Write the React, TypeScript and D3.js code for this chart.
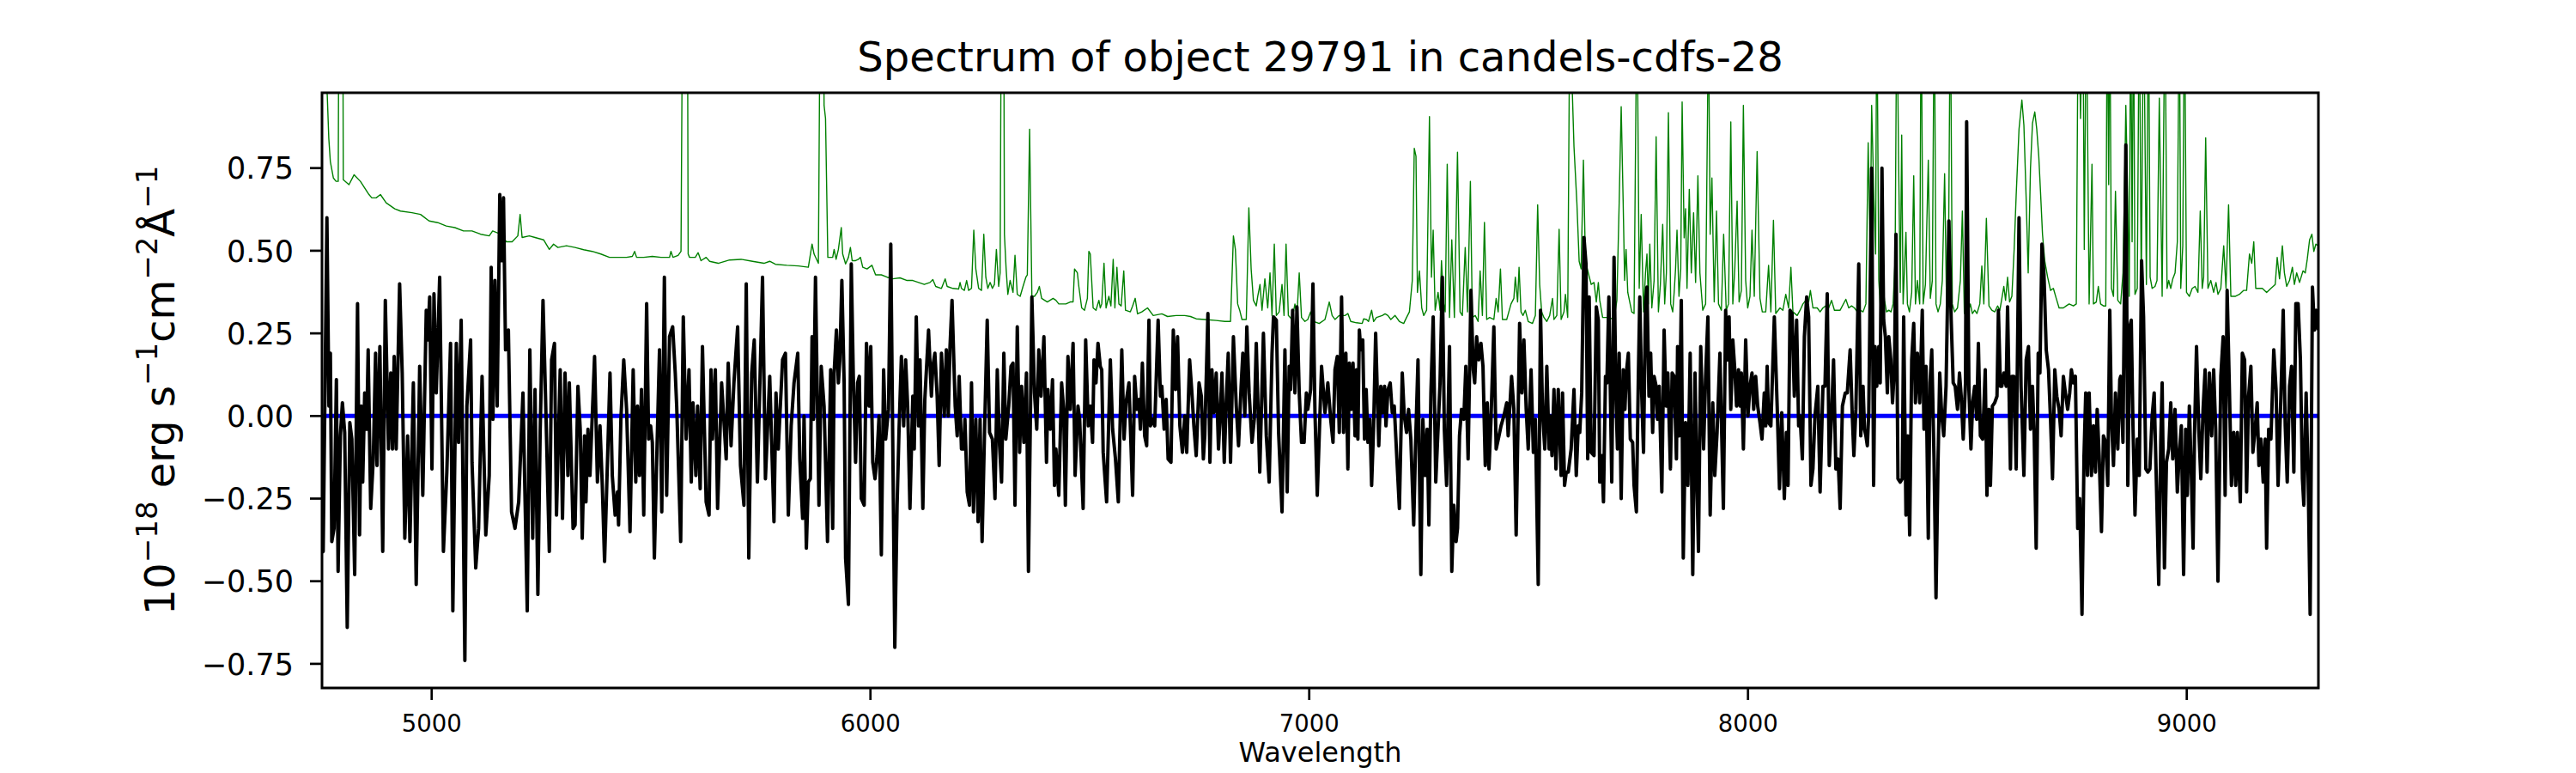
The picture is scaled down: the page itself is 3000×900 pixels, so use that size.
import React from 'react';
import * as d3 from 'd3';

const TITLE = 'Spectrum of object 29791 in candels-cdfs-28';
const X_LABEL = 'Wavelength';
const X_TICKS = [5000, 6000, 7000, 8000, 9000];
const Y_TICKS = [-0.75, -0.5, -0.25, 0, 0.25, 0.5, 0.75];
const X_DOMAIN: [number, number] = [4750, 9300];
const Y_DOMAIN: [number, number] = [-0.823, 0.978];

// model / continuum (blue)
const MODEL: [number, number][] = [[4750, 0], [9300, 0]];

// observed flux (black), wavelength [A], flux [1e-18 erg/s/cm2/A]
const FLUX: [number, number][] = [
  [4750,-0.40],[4752.7,-0.41],[4761.2,0.60],[4765.8,0.03],[4769.1,0.19],[4772.3,-0.38],[4777.5,-0.34],[4782.8,0.11],[4786.7,-0.47],[4791.9,-0.06],[4796.5,0.04],[4801.7,-0.05],[4807.5,-0.64],[4813.4,-0.02],[4818.0,-0.07],[4824.5,-0.48],[4831.0,0.34],[4835.6,-0.36],[4839.5,0.03],[4842.8,-0.20],[4847.3,0.07],[4851.9,-0.04],[4855.2,0.20],[4861.0,-0.28],[4866.9,-0.13],[4872.1,0.19],[4875.4,-0.15],[4881.9,0.21],[4888.4,-0.41],[4894.3,0.35],[4901.5,-0.10],[4906.7,0.13],[4910.6,-0.10],[4914.5,0.18],[4919.1,-0.10],[4926.9,0.40],[4932.8,0.13],[4938.7,-0.37],[4945.2,-0.06],[4950.4,-0.38],[4958.2,0.10],[4964.7,-0.51],[4972.6,0.15],[4979.7,-0.24],[4987.6,0.32],[4990.8,0.23],[4995.4,0.36],[5000.6,-0.16],[5005.2,0.37],[5010.4,0.07],[5018.2,0.42],[5026.7,-0.41],[5034.5,-0.17],[5043.0,0.22],[5048.2,-0.59],[5056.1,0.22],[5061.3,-0.08],[5067.2,0.29],[5075.6,-0.74],[5080.2,0.03],[5088.7,0.23],[5091.9,-0.14],[5100.4,-0.46],[5106.9,-0.34],[5114.8,0.12],[5123.3,-0.36],[5131.1,-0.18],[5135.6,0.45],[5139.6,-0.01],[5144.1,0.41],[5149.3,0.03],[5155.2,0.67],[5159.1,0.47],[5163.7,0.66],[5168.3,0.20],[5174.8,0.26],[5182.0,-0.29],[5189.8,-0.34],[5198.3,-0.26],[5208.0,0.07],[5217.8,-0.59],[5223.7,0.20],[5230.2,-0.37],[5235.5,0.08],[5242.0,-0.54],[5247.2,-0.05],[5253.7,0.35],[5259.6,0.05],[5268.1,-0.41],[5273.3,0.17],[5279.8,0.22],[5284.4,-0.30],[5292.9,0.14],[5298.1,-0.31],[5303.9,0.13],[5310.5,-0.18],[5313.7,0.10],[5322.2,-0.34],
  [5326.8,-0.33],[5333.3,0.09],[5338.5,-0.04],[5343.1,-0.37],[5348.3,-0.06],[5351.6,-0.26],[5356.2,-0.04],[5360.7,-0.18],[5371.2,0.18],[5377.7,-0.20],[5383.6,-0.03],[5388.8,-0.21],[5394.0,-0.44],[5399.9,-0.17],[5406.4,0.13],[5411.6,-0.18],[5418.1,-0.30],[5423.3,-0.23],[5425.9,-0.33],[5431.2,-0.01],[5437.7,0.17],[5444.2,0.02],[5452.0,-0.35],[5459.2,0.14],[5465.1,-0.20],[5469.0,0.03],[5473.6,-0.18],[5478.1,0.08],[5483.3,-0.30],[5489.9,0.34],[5494.4,-0.07],[5499.0,-0.03],[5502.9,-0.08],[5507.5,-0.43],[5514.0,-0.07],[5519.2,0.20],[5524.4,-0.29],[5530.3,0.42],[5535.5,-0.24],[5542.1,0.24],[5549.2,0.27],[5555.1,0.13],[5558.4,0.03],[5567.5,-0.38],[5573.4,0.30],[5579.9,-0.07],[5586.4,0.14],[5591.6,-0.20],[5595.5,0.04],[5602.1,-0.18],[5606.0,0.03],[5611.9,-0.22],[5617.1,0.21],[5625.5,-0.26],[5632.1,-0.30],[5636.6,0.14],[5639.9,-0.07],[5646.4,0.14],[5651.6,-0.28],[5660.8,0.10],[5671.2,-0.13],[5675.8,0.16],[5682.3,-0.09],[5688.8,0.10],[5697.3,0.27],[5703.8,-0.15],[5711.7,-0.27],[5716.9,0.40],[5722.7,-0.43],[5729.3,0.13],[5735.1,0.23],[5742.3,-0.20],[5747.5,0.07],[5754.0,0.42],[5760.6,-0.19],[5770.4,0.12],[5780.1,-0.32],[5784.7,0.07],[5789.9,-0.10],[5799.7,0.17],[5806.2,0.19],[5812.8,-0.30],[5819.3,-0.03],[5825.8,0.10],[5834.3,0.19],[5838.9,-0.13],[5845.4,-0.31],[5848.6,0.00],[5853.9,-0.40],[5858.4,-0.20],[5863.0,-0.19],[5866.9,0.24],[5870.2,-0.01],[5874.7,0.42],[5882.6,-0.27],[5887.8,0.15],[5894.3,0.03],[5902.1,-0.38],[5909.3,0.14],
  [5913.9,-0.34],[5917.2,0.13],[5922.4,0.26],[5926.9,0.10],[5930.2,0.17],[5934.8,0.41],[5940.0,0.10],[5943.3,-0.43],[5949.8,-0.57],[5956.3,0.46],[5960.9,0.12],[5966.1,-0.14],[5970.7,0.10],[5974.6,0.12],[5979.1,-0.25],[5985.7,-0.27],[5990.9,0.22],[5996.7,0.03],[6000.7,0.21],[6005.2,-0.14],[6010.4,-0.19],[6015.0,-0.12],[6019.6,0.00],[6024.8,-0.42],[6030.0,0.14],[6034.6,-0.07],[6041.1,0.02],[6046.3,0.52],[6055.5,-0.70],[6060.7,-0.27],[6065.2,-0.04],[6070.5,0.18],[6075.7,-0.03],[6080.2,0.17],[6084.8,0.03],[6090.0,-0.28],[6096.5,0.06],[6099.8,-0.10],[6104.4,0.30],[6109.6,-0.03],[6112.9,0.17],[6119.4,-0.28],[6123.9,0.05],[6132.4,0.26],[6138.9,0.06],[6142.2,0.15],[6146.8,0.19],[6152.0,0.06],[6156.6,-0.15],[6161.8,0.19],[6168.3,0.00],[6172.9,0.20],[6177.4,0.00],[6181.3,0.21],[6185.9,0.35],[6193.1,0.03],[6197.7,-0.06],[6202.2,0.12],[6207.4,-0.10],[6212.7,-0.10],[6215.3,-0.01],[6220.5,-0.23],[6225.7,-0.27],[6230.3,0.10],[6234.8,-0.29],[6240.1,-0.01],[6245.3,-0.32],[6249.8,-0.01],[6254.4,-0.38],[6259.6,-0.07],[6266.1,0.29],[6271.4,-0.05],[6277.9,-0.07],[6283.8,-0.25],[6289.0,0.14],[6294.2,-0.09],[6298.8,-0.20],[6304.0,0.19],[6308.5,-0.07],[6315.1,0.03],[6320.3,0.15],[6324.9,0.16],[6329.4,-0.27],[6334.6,0.27],[6339.9,-0.11],[6344.4,0.09],[6349.6,-0.08],[6355.5,0.13],[6360.1,-0.47],[6367.9,0.36],[6373.8,0.07],[6379.0,-0.04],[6383.6,0.20],[6388.8,0.06],[6395.3,0.24],[6401.2,-0.14],[6404.4,0.08],[6409.7,-0.04],[6414.9,0.11],[6419.4,-0.21],[6422.7,-0.10],[6429.2,-0.24],[6435.7,0.10],[6440.3,0.02],[6444.2,-0.27],[6450.1,0.18],[6455.3,0.02],[6461.8,0.22],[6466.4,-0.18],[6472.9,0.03],[6476.8,-0.01],[6484.7,-0.28],[6490.5,0.23],[6496.4,-0.03],
  [6501.0,0.03],[6506.2,-0.08],[6509.5,0.17],[6514.0,0.10],[6518.6,0.22],[6523.8,0.15],[6527.1,0.14],[6530.4,-0.11],[6538.2,-0.26],[6541.4,-0.10],[6546.7,0.17],[6551.9,-0.04],[6558.4,-0.13],[6564.9,-0.26],[6572.8,0.20],[6578.0,-0.07],[6582.5,0.04],[6589.1,0.10],[6597.5,-0.24],[6602.1,0.12],[6607.3,0.02],[6611.9,0.05],[6615.2,-0.04],[6619.7,0.16],[6624.9,-0.06],[6629.5,-0.09],[6634.7,0.29],[6638.0,-0.03],[6643.2,-0.01],[6647.8,-0.03],[6655.6,0.29],[6660.8,0.06],[6664.1,0.09],[6669.3,-0.04],[6673.9,0.05],[6678.4,-0.13],[6684.9,-0.14],[6690.2,0.26],[6695.4,0.08],[6699.9,0.24],[6705.2,-0.03],[6711.0,-0.11],[6716.3,0.00],[6720.8,-0.11],[6727.4,0.17],[6732.6,0.07],[6737.1,-0.03],[6742.4,-0.12],[6748.9,0.10],[6754.1,0.06],[6758.7,-0.13],[6761.9,-0.06],[6769.1,0.31],[6773.7,-0.14],[6778.2,0.14],[6782.8,0.01],[6788.0,0.13],[6793.2,-0.10],[6796.5,-0.01],[6801.1,0.13],[6806.3,-0.14],[6810.8,0.04],[6815.4,0.19],[6820.6,-0.14],[6827.2,0.24],[6833.7,0.03],[6838.9,-0.09],[6844.8,0.09],[6848.7,0.19],[6853.2,0.00],[6857.8,0.27],[6863.0,0.07],[6869.6,-0.08],[6874.8,-0.01],[6879.3,0.22],[6887.2,-0.17],[6895.6,0.25],[6902.2,-0.06],[6908.7,-0.20],[6915.2,0.19],[6918.5,0.30],[6925.0,0.29],[6930.2,-0.05],[6938.0,-0.29],[6944.6,0.20],[6949.8,-0.23],[6954.3,0.15],[6957.6,0.08],[6962.2,0.32],[6967.4,0.07],[6972.0,0.33],[6977.2,0.07],[6982.4,-0.08],[6988.3,-0.08],[6993.5,0.07],[6996.7,0.02],[7003.3,0.08],[7008.5,0.40],[7013.1,0.01],[7018.3,-0.24],[7028.1,0.15],[7035.9,0.01],[7042.4,0.10],[7048.9,-0.01],[7054.2,-0.08],[7058.7,0.14],[7063.9,0.18],[7068.5,-0.05],[7073.7,0.36],[7078.3,-0.05],[7083.5,0.19],[7088.1,-0.16],
  [7091.4,0.16],[7095.9,0.02],[7099.8,0.16],[7104.4,-0.06],[7107.7,0.14],[7110.9,-0.07],[7114.2,0.26],[7117.5,0.20],[7122.0,0.23],[7125.9,-0.07],[7129.8,0.08],[7133.8,-0.08],[7138.3,-0.01],[7142.2,-0.21],[7146.8,-0.03],[7151.4,0.25],[7158.5,-0.09],[7163.1,0.09],[7167.7,0.01],[7171.6,0.09],[7174.9,-0.03],[7179.4,0.08],[7184.6,0.10],[7189.2,0.01],[7193.8,0.03],[7199.0,-0.11],[7205.5,-0.28],[7212.0,0.13],[7216.6,0.00],[7221.8,-0.05],[7226.4,0.02],[7231.6,-0.07],[7238.1,-0.33],[7242.7,-0.07],[7247.9,0.17],[7254.4,-0.48],[7259.0,-0.01],[7264.2,-0.18],[7268.8,-0.04],[7272.7,-0.33],[7277.3,0.07],[7282.5,0.30],[7288.4,-0.20],[7293.6,-0.04],[7298.1,0.10],[7303.4,0.42],[7307.9,-0.04],[7313.1,-0.21],[7319.7,0.21],[7324.9,-0.47],[7329.5,-0.27],[7334.7,-0.38],[7338.0,-0.34],[7342.5,-0.06],[7347.1,0.02],[7352.3,-0.01],[7356.9,0.15],[7362.1,-0.13],[7368.6,0.38],[7373.8,0.14],[7377.1,0.10],[7381.6,0.24],[7386.2,0.17],[7391.4,0.22],[7396.0,0.15],[7401.2,-0.15],[7405.8,0.04],[7409.7,-0.16],[7414.3,-0.01],[7420.8,0.27],[7426.0,-0.10],[7432.5,-0.06],[7437.1,-0.03],[7443.6,0.00],[7450.1,0.04],[7453.4,-0.06],[7461.2,0.12],[7466.4,0.02],[7471.6,-0.36],[7479.5,0.28],[7484.7,0.07],[7489.3,0.23],[7494.5,0.02],[7499.1,-0.10],[7505.6,0.14],[7510.8,-0.11],[7515.4,-0.01],[7521.9,-0.51],[7527.1,0.32],[7531.7,0.01],[7536.9,-0.10],[7541.5,0.15],[7546.7,-0.10],[7549.9,0.00],[7553.2,-0.12],[7557.8,0.08],[7562.3,-0.16],[7567.5,0.08],[7574.1,-0.18],[7577.3,0.07],[7581.9,-0.21],[7585.8,-0.17],[7590.4,-0.17],[7596.9,-0.10],[7603.4,0.08],[7608.6,-0.18],[7613.2,-0.03],[7616.5,-0.05],[7621.0,0.07],[7626.2,0.54],[7630.8,0.46],[7634.7,-0.13],[7638.0,0.36],[7642.6,-0.11],[7649.1,-0.12],[7654.3,0.33],[7658.9,0.29],[7662.1,-0.20],[7666.7,-0.12],[7670.6,-0.26],[7675.2,0.12],
  [7678.4,0.10],[7682.9,0.36],[7686.2,0.08],[7689.5,-0.20],[7694.7,0.48],[7699.2,0.05],[7702.5,-0.10],[7706.4,0.19],[7711.0,-0.25],[7715.5,0.14],[7719.5,0.02],[7722.7,0.13],[7727.3,0.19],[7731.8,-0.07],[7737.1,-0.08],[7740.3,-0.21],[7745.6,-0.29],[7750.1,0.12],[7753.4,0.36],[7757.9,0.06],[7761.9,-0.11],[7766.4,0.34],[7769.7,0.39],[7774.3,0.06],[7778.2,0.19],[7782.7,-0.05],[7786.0,0.12],[7790.6,0.09],[7793.8,-0.01],[7797.7,0.09],[7803.6,-0.23],[7808.8,0.26],[7813.4,0.03],[7817.3,0.13],[7823.2,-0.16],[7827.1,0.13],[7831.7,0.12],[7836.9,-0.13],[7839.5,0.21],[7843.4,-0.06],[7848.0,0.35],[7852.5,-0.43],[7857.7,-0.02],[7863.0,-0.21],[7868.2,0.19],[7874.1,-0.48],[7879.3,0.13],[7883.8,-0.21],[7887.1,-0.41],[7892.3,0.21],[7898.8,-0.10],[7903.4,0.12],[7908.6,0.30],[7913.8,-0.30],[7919.7,0.04],[7924.3,-0.18],[7929.5,-0.05],[7936.0,0.19],[7943.9,-0.28],[7949.1,0.32],[7952.3,0.17],[7956.9,0.30],[7960.8,0.02],[7965.4,0.23],[7969.9,0.14],[7973.9,0.03],[7978.4,0.14],[7981.7,0.03],[7984.9,0.13],[7989.5,-0.10],[7994.7,0.23],[7999.9,0.00],[8004.5,0.09],[8009.1,0.13],[8013.0,0.02],[8017.5,0.12],[8022.1,0.03],[8027.3,-0.02],[8031.9,-0.07],[8037.1,0.07],[8040.4,-0.03],[8043.7,0.15],[8046.9,-0.02],[8052.1,-0.03],[8060.0,0.30],[8066.5,0.03],[8071.7,-0.22],[8076.9,0.01],[8082.8,-0.25],[8087.4,-0.05],[8091.3,-0.21],[8095.8,0.32],[8100.4,0.31],[8105.6,0.06],[8110.8,0.29],[8115.4,-0.03],[8118.7,0.00],[8123.9,-0.13],[8128.5,0.24],[8133.7,0.36],[8138.2,0.30],[8143.5,-0.21],[8148.0,-0.16],[8152.6,0.00],[8159.1,0.09],[8164.3,-0.23],[8170.8,0.09],[8175.4,0.09],[8180.6,0.37],[8185.2,-0.15],[8190.4,0.00],[8195.0,0.17],[8200.2,-0.16],[8205.4,-0.13],[8210.0,-0.28],[8215.2,0.03],[8221.7,0.07],[8226.3,0.07],[8232.8,0.20],[8237.4,0.01],[8241.3,-0.12],[8245.9,0.02],[8252.4,0.46],[8257.0,-0.06],[8262.2,0.09],
  [8265.5,-0.04],[8268.7,-0.06],[8272.0,-0.09],[8275.2,0.01],[8281.8,0.75],[8286.3,-0.21],[8289.6,0.21],[8293.5,0.09],[8298.1,0.21],[8301.3,0.10],[8305.3,0.75],[8309.2,0.29],[8313.1,0.24],[8317.6,0.07],[8320.9,0.24],[8325.5,0.17],[8329.4,0.04],[8333.9,0.15],[8337.2,0.55],[8341.8,-0.19],[8347.0,-0.20],[8351.6,-0.19],[8354.8,0.30],[8360.0,-0.30],[8364.0,-0.06],[8368.5,-0.36],[8373.1,0.17],[8377.7,0.28],[8381.6,0.04],[8386.1,0.19],[8391.4,0.04],[8397.2,0.32],[8401.1,-0.04],[8405.7,0.15],[8410.9,-0.37],[8414.8,0.10],[8418.8,0.20],[8424.0,-0.13],[8428.5,-0.55],[8433.1,-0.14],[8437.0,0.13],[8441.6,0.00],[8446.1,-0.06],[8451.4,0.09],[8457.9,0.59],[8463.1,0.29],[8467.7,0.10],[8472.2,0.09],[8477.5,0.02],[8482.0,0.13],[8485.9,0.06],[8490.5,-0.07],[8495.7,0.10],[8498.3,0.89],[8503.5,0.08],[8508.1,-0.10],[8512.0,0.04],[8516.6,0.09],[8521.2,-0.01],[8525.1,0.22],[8529.6,-0.06],[8534.9,-0.07],[8540.7,0.14],[8544.6,-0.24],[8549.2,0.02],[8552.5,-0.21],[8557.0,0.03],[8562.3,0.04],[8567.5,0.06],[8570.7,0.32],[8575.3,0.09],[8578.6,0.09],[8583.1,0.13],[8588.4,0.09],[8591.6,0.33],[8598.1,-0.16],[8601.4,0.12],[8606.0,0.12],[8611.2,-0.16],[8617.7,0.60],[8622.3,0.09],[8628.8,-0.18],[8634.0,0.17],[8639.2,0.21],[8643.8,-0.04],[8648.4,0.09],[8652.3,-0.06],[8656.8,-0.40],[8661.4,0.19],[8665.3,0.13],[8669.9,0.52],[8674.5,0.43],[8679.7,0.20],[8684.9,0.14],[8689.5,-0.01],[8694.0,-0.19],[8699.2,0.14],[8703.8,0.06],[8709.0,0.02],[8713.6,-0.06],[8718.8,0.12],[8723.4,0.07],[8728.6,0.02],[8733.2,0.07],[8737.1,0.14],[8741.6,0.10],[8746.2,0.12],[8751.4,-0.34],[8756.0,-0.25],[8761.2,-0.60],[8765.8,-0.12],[8769.7,0.07],[8773.6,-0.18],[8777.5,0.07],[8782.7,-0.18],[8787.3,-0.03],[8791.9,-0.17],[8795.8,0.02],[8800.3,-0.12],[8805.6,-0.35],[8810.1,-0.06],[8815.4,-0.08],[8820.0,-0.21],[8824.5,0.32],[8828.4,-0.01],[8833.0,-0.15],[8837.5,0.07],[8842.8,-0.10],[8847.3,0.11],
  [8849.3,0.12],[8854.6,-0.08],[8861.1,0.82],[8865.7,-0.21],[8870.2,0.27],[8873.5,0.29],[8877.4,-0.03],[8882.0,-0.30],[8887.2,-0.07],[8891.7,-0.18],[8897.0,0.47],[8901.5,0.30],[8906.7,-0.16],[8911.3,-0.17],[8915.9,-0.16],[8921.1,0.00],[8925.7,0.07],[8930.9,-0.21],[8936.1,-0.51],[8940.7,-0.08],[8943.9,0.10],[8949.1,-0.46],[8953.7,-0.14],[8958.9,-0.10],[8963.5,0.04],[8968.1,-0.13],[8973.3,0.02],[8978.5,-0.23],[8983.1,-0.11],[8987.6,-0.03],[8992.8,-0.48],[8997.4,-0.04],[9001.3,-0.24],[9005.9,0.03],[9010.5,-0.18],[9014.4,-0.40],[9017.6,-0.06],[9022.2,0.21],[9027.4,-0.04],[9032.0,-0.19],[9037.2,0.02],[9041.8,0.14],[9046.3,-0.17],[9051.5,0.13],[9056.8,-0.06],[9061.3,0.14],[9065.9,-0.04],[9071.1,-0.50],[9077.6,0.12],[9082.9,0.24],[9087.4,-0.24],[9092.0,0.38],[9097.2,0.08],[9101.8,-0.21],[9107.0,-0.05],[9111.6,-0.21],[9115.5,-0.05],[9122.0,-0.26],[9126.6,0.19],[9131.8,0.17],[9136.4,-0.23],[9140.9,0.06],[9146.1,0.15],[9150.7,-0.11],[9155.9,-0.04],[9160.5,0.04],[9164.4,-0.15],[9169.0,-0.07],[9174.2,-0.20],[9178.7,-0.07],[9182.0,-0.40],[9186.6,-0.04],[9191.8,-0.07],[9198.3,0.20],[9203.5,0.08],[9208.1,-0.21],[9214.6,0.06],[9219.8,0.32],[9224.4,-0.03],[9229.0,-0.20],[9234.2,0.09],[9238.8,0.15],[9244.0,-0.17],[9248.6,0.34],[9253.8,0.34],[9259.0,0.17],[9263.6,-0.19],[9266.8,-0.27],[9272.0,0.07],[9276.6,-0.18],[9281.2,-0.60],[9286.4,0.39],[9291.0,0.26],[9294.9,0.32],[9299.5,0.26]
];

// noise / sky spectrum (green)
const NOISE: [number, number][] = [
  [4750,1.2],[4762,0.97],[4765.5,0.84],[4769,0.77],[4776,0.72],[4782,0.71],[4787,0.71],[4789,1.5],[4797,1.5],[4798.5,0.715],[4811.5,0.70],[4823.2,0.73],[4837.5,0.71],[4857.1,0.67],[4863.6,0.66],[4873.4,0.66],[4883.2,0.67],[4896.2,0.645],[4915.8,0.627],[4928.9,0.62],[4955.0,0.615],[4974.5,0.61],[4994.1,0.59],[5013.7,0.585],[5033.2,0.575],[5052.8,0.57],[5072.4,0.56],[5091.9,0.56],[5111.5,0.55],[5131.1,0.545],[5138.9,0.56],[5157.2,0.55],[5170.2,0.527],[5183.3,0.527],[5196.3,0.545],[5201.5,0.61],[5206.1,0.54],[5222.4,0.545],[5235.5,0.54],[5255.0,0.533],[5268.1,0.504],[5277.8,0.52],[5287.6,0.51],[5307.2,0.515],[5326.8,0.51],
  [5346.4,0.503],[5365.9,0.498],[5385.5,0.49],[5405.1,0.48],[5424.6,0.48],[5444.2,0.48],[5457.3,0.483],[5462.5,0.498],[5467.0,0.48],[5483.3,0.48],[5502.9,0.483],[5522.5,0.48],[5542.1,0.48],[5545.3,0.498],[5549.9,0.48],[5561.6,0.486],[5568.2,0.498],[5572.7,1.5],[5582.5,1.5],[5584.5,0.49],[5587.7,0.48],[5600.8,0.48],[5607.3,0.494],[5613.8,0.47],[5625.5,0.48],[5633.4,0.468],[5653.0,0.462],[5679.0,0.472],[5705.1,0.474],[5731.2,0.468],[5757.3,0.462],[5770.4,0.468],[5783.4,0.459],[5809.5,0.456],[5835.6,0.454],[5858.4,0.45],[5866.9,0.52],[5871.5,0.49],[5881.3,0.462],[5886.5,1.5],[5891.7,1.5],[5894.3,0.94],[5897.6,0.90],[5902.8,0.48],[5907.4,0.48],
  [5913.9,0.48],[5917.2,0.504],[5921.7,0.474],[5926.9,0.504],[5933.5,0.57],[5936.7,0.49],[5943.3,0.46],[5949.8,0.48],[5954.3,0.51],[5958.3,0.47],[5966.1,0.47],[5972.6,0.474],[5977.2,0.48],[5982.4,0.45],[5992.2,0.445],[6003.3,0.456],[6011.7,0.427],[6024.8,0.427],[6037.8,0.42],[6050.9,0.415],[6067.2,0.418],[6083.5,0.41],[6096.5,0.41],[6109.6,0.404],[6122.6,0.398],[6135.7,0.404],[6142.2,0.413],[6148.7,0.392],[6161.8,0.386],[6170.3,0.415],[6174.8,0.392],[6187.9,0.386],[6200.9,0.384],[6204.2,0.404],[6207.4,0.386],[6214.0,0.38],[6219.2,0.41],[6223.7,0.38],[6230.3,0.386],[6235.5,0.562],[6240.1,0.445],[6246.6,0.386],[6253.1,0.38],[6258.3,0.55],[6262.9,0.42],[6267.5,0.386],[6272.7,0.404],[6277.9,0.386],[6282.5,0.398],[6287.0,0.504],[6292.2,0.392],[6295.5,0.433],[6298.8,1.5],[6303.3,1.5],[6305.3,0.55],[6309.2,0.445],[6313.1,0.368],[6318.3,0.41],[6324.9,0.374],[6329.4,0.486],[6334.6,0.368],[6341.2,0.362],[6347.7,0.392],[6354.2,0.42],[6357.5,0.427],[6362.7,0.868],[6367.9,0.362],[6373.8,0.362],[6380.3,0.374],[6384.9,0.392],[6390.1,0.356],[6403.1,0.345],[6416.2,0.356],[6422.7,0.35],[6429.2,0.339],[6435.7,0.339],[6445.5,0.339],[6455.3,0.345],[6461.8,0.345],[6465.1,0.445],[6471.6,0.433],[6474.9,0.392],[6481.4,0.327],[6487.9,0.32],[6494.4,0.356],[6497.7,0.498],[6501.0,0.49],
  [6507.5,0.327],[6514.0,0.32],[6520.6,0.35],[6523.8,0.327],[6527.1,0.339],[6532.3,0.462],[6536.9,0.327],[6543.4,0.362],[6548.0,0.333],[6553.2,0.474],[6557.1,0.327],[6561.7,0.45],[6566.2,0.339],[6571.4,0.333],[6577.3,0.439],[6581.2,0.32],[6592.3,0.315],[6597.5,0.333],[6603.4,0.356],[6608.6,0.309],[6618.4,0.315],[6631.5,0.327],[6644.5,0.304],[6664.1,0.309],[6677.1,0.301],[6696.7,0.304],[6716.3,0.304],[6729.3,0.301],[6742.4,0.294],[6761.9,0.292],[6788.0,0.289],[6807.6,0.286],[6820.6,0.286],[6827.2,0.545],[6831.7,0.504],[6836.9,0.339],[6841.5,0.32],[6846.7,0.292],[6856.5,0.292],[6862.4,0.63],[6867.6,0.445],[6872.8,0.35],[6879.3,0.333],[6882.6,0.362],[6887.8,0.398],[6892.4,0.32],[6898.9,0.415],[6905.4,0.327],[6910.6,0.433],[6915.2,0.304],[6920.4,0.52],[6925.0,0.304],[6931.5,0.315],[6938.0,0.398],[6942.6,0.304],[6947.2,0.52],[6952.4,0.304],[6960.9,0.292],[6967.4,0.339],[6972.0,0.304],[6977.2,0.433],[6982.4,0.298],[6990.2,0.286],[6996.7,0.292],[7003.3,0.315],[7009.8,0.286],[7022.8,0.28],[7035.9,0.292],[7045.7,0.345],[7052.2,0.304],[7058.7,0.292],[7068.5,0.304],[7081.6,0.304],[7088.1,0.31],
  [7094.6,0.286],[7107.7,0.282],[7120.7,0.28],[7124.0,0.294],[7130.5,0.292],[7135.1,0.286],[7142.2,0.32],[7146.8,0.286],[7153.3,0.298],[7166.4,0.304],[7172.9,0.309],[7179.4,0.304],[7186.0,0.292],[7195.7,0.304],[7205.5,0.286],[7215.3,0.28],[7221.8,0.298],[7228.3,0.315],[7234.9,0.41],[7239.4,0.81],[7243.3,0.786],[7246.6,0.374],[7251.2,0.439],[7256.4,0.327],[7260.9,0.304],[7267.5,0.32],[7274.0,0.906],[7278.6,0.42],[7282.5,0.562],[7287.0,0.32],[7293.6,0.374],[7298.1,0.32],[7301.4,0.47],[7306.6,0.339],[7309.9,0.315],[7314.5,0.762],[7319.7,0.298],[7324.9,0.533],[7330.8,0.298],[7337.9,0.798],[7343.8,0.315],[7349.0,0.304],[7355.5,0.51],[7360.8,0.315],[7367.3,0.71],[7371.8,0.298],[7378.4,0.304],[7384.9,0.286],[7389.5,0.439],[7394.7,0.304],[7399.3,0.586],[7404.5,0.292],[7411.0,0.298],[7420.8,0.292],[7426.0,0.356],[7430.6,0.315],[7435.8,0.445],[7440.3,0.292],[7450.1,0.292],[7459.9,0.339],[7466.4,0.356],[7469.7,0.42],[7474.9,0.345],[7478.2,0.45],[7482.7,0.315],[7487.3,0.304],[7492.5,0.32],[7499.1,0.286],[7508.8,0.28],[7515.4,0.304],[7520.6,0.639],[7525.2,0.398],[7529.7,0.315],[7534.9,0.298],[7541.5,0.286],[7548.0,0.304],[7554.5,0.356],[7557.8,0.292],[7564.3,0.304],[7569.5,0.565],[7574.1,0.292],[7580.6,0.315],[7583.9,0.368],[7589.1,0.298],[7593.6,1.2],[7596.9,1.1],[7603.4,0.815],[7610.0,0.645],[7615.2,0.468],[7619.7,0.445],[7624.9,0.774],[7629.5,0.468],[7636.0,0.433],[7642.6,0.398],[7649.1,0.404],[7654.3,0.345],[7658.9,0.404],[7662.1,0.35],[7668.7,0.298],[7675.2,0.298],
  [7681.6,0.298],[7694.7,0.292],[7701.2,0.35],[7706.4,0.645],[7711.0,0.936],[7715.5,0.645],[7718.8,0.41],[7722.1,0.504],[7726.0,0.374],[7730.5,0.345],[7735.1,0.315],[7740.3,0.31],[7746.9,1.3],[7752.1,0.386],[7756.6,0.61],[7761.9,0.315],[7766.4,0.433],[7769.7,0.49],[7773.0,0.339],[7776.2,0.52],[7780.8,0.327],[7786.0,0.41],[7790.6,0.845],[7795.8,0.315],[7800.3,0.398],[7805.6,0.58],[7810.1,0.339],[7814.0,0.433],[7818.6,0.918],[7823.8,0.339],[7828.4,0.315],[7831.7,0.374],[7834.9,0.445],[7838.2,0.562],[7842.7,0.362],[7846.7,0.445],[7849.9,0.95],[7854.5,0.539],[7857.7,0.627],[7861.0,0.386],[7866.2,0.686],[7870.8,0.433],[7876.0,0.615],[7880.6,0.404],[7885.8,0.727],[7890.4,0.433],[7896.9,0.32],[7903.4,0.339],[7909.9,1.2],[7913.8,0.55],[7917.8,0.72],[7923.0,0.345],[7928.2,0.62],[7932.8,0.339],[7939.3,0.32],[7944.5,0.55],[7950.4,0.32],[7955.6,0.339],[7960.8,0.89],[7965.4,0.339],[7969.9,0.445],[7975.2,0.65],[7979.7,0.345],[7984.9,0.38],[7989.5,0.94],[7994.7,0.41],[7999.3,0.327],[8004.5,0.362],[8009.1,0.562],[8014.3,0.362],[8020.8,0.80],[8027.3,0.356],[8032.6,0.315],[8040.4,0.315],[8046.9,0.456],[8052.1,0.315],[8058.0,0.592],[8063.2,0.31],[8073.0,0.327],[8079.5,0.32],[8086.1,0.368],[8092.6,0.327],[8097.8,0.45],[8102.4,0.315],[8112.1,0.304],[8118.7,0.32],[8125.2,0.339],[8131.7,0.35],[8138.2,0.345],[8142.2,0.38],[8148.0,0.327],[8157.8,0.327],[8164.3,0.315],[8170.8,0.327],[8177.4,0.333],[8183.9,0.327],[8190.4,0.35],[8197.0,0.32],[8210.0,0.32],[8223.0,0.353],[8229.6,0.327],[8236.1,0.333],[8242.6,0.327],[8249.2,0.315],[8255.7,0.32],[8262.2,0.315],
  [8268.7,0.339],[8273.9,0.827],[8278.5,0.49],[8281.8,0.94],[8287.0,0.656],[8290.9,0.49],[8293.5,1.3],[8298.1,0.41],[8301.3,0.339],[8306.6,0.41],[8311.1,0.35],[8315.7,0.315],[8320.9,0.32],[8326.1,0.315],[8330.7,0.339],[8335.3,0.474],[8339.2,1.3],[8343.1,0.786],[8347.0,0.374],[8350.3,0.85],[8353.5,0.339],[8360.0,0.556],[8363.3,0.339],[8367.9,0.315],[8373.1,0.374],[8377.7,0.727],[8381.6,0.339],[8386.1,0.41],[8391.4,0.339],[8394.6,1.3],[8399.2,0.339],[8404.4,0.398],[8410.9,0.774],[8415.5,0.356],[8420.1,0.41],[8424.6,1.3],[8428.5,0.339],[8433.1,0.315],[8438.3,0.339],[8442.9,0.41],[8448.1,0.733],[8452.7,0.327],[8456.6,0.41],[8461.2,1.3],[8465.7,0.339],[8470.9,0.315],[8477.5,0.327],[8484.0,0.41],[8488.6,0.62],[8493.1,0.31],[8498.3,0.41],[8502.2,0.315],[8506.8,0.339],[8511.4,0.31],[8516.6,0.32],[8521.8,0.31],[8528.3,0.339],[8532.9,0.454],[8537.5,0.339],[8543.3,0.598],[8549.2,0.333],[8555.7,0.32],[8562.3,0.315],[8568.8,0.333],[8574.0,0.32],[8578.6,0.356],[8583.1,0.392],[8587.0,0.35],[8591.6,0.42],[8596.2,0.345],[8601.4,0.362],[8606.6,0.504],[8611.2,0.668],[8617.7,0.868],[8624.2,0.956],[8628.8,0.88],[8634.0,0.656],[8638.6,0.433],[8643.8,0.75],[8648.4,0.886],[8653.6,0.92],[8658.1,0.868],[8662.7,0.786],[8666.6,0.68],[8671.2,0.55],[8676.4,0.468],[8682.9,0.42],[8689.5,0.38],[8696.0,0.386],[8702.5,0.356],[8709.0,0.327],[8718.8,0.327],[8725.3,0.333],[8731.9,0.339],[8741.6,0.333],[8748.2,0.339],[8752.7,1.3],[8757.9,0.90],[8763.2,1.3],[8766.4,0.504],[8771.0,1.3],[8777.5,0.339],[8784.0,0.762],[8787.3,0.339],[8793.8,0.345],[8798.4,0.392],[8803.6,0.339],[8810.1,0.333],[8815.4,0.333],[8818.7,1.3],[8822.0,0.70],[8824.5,1.3],[8828.4,0.386],[8833.0,0.362],[8837.5,0.68],[8842.8,0.35],[8849.3,0.339],
  [8854.6,0.433],[8859.1,0.762],[8861.1,0.94],[8865.7,0.645],[8868.9,0.362],[8872.2,1.3],[8875.4,0.527],[8878.7,1.3],[8882.0,0.368],[8887.2,0.386],[8891.7,1.3],[8896.3,0.386],[8901.5,1.3],[8908.0,0.398],[8912.6,1.3],[8916.5,0.42],[8921.1,0.386],[8927.6,0.392],[8932.2,0.41],[8937.4,0.962],[8943.9,0.362],[8950.4,1.3],[8955.0,0.386],[8958.9,0.41],[8963.5,0.386],[8968.1,0.415],[8973.3,0.433],[8978.5,0.527],[8983.1,1.3],[8986.3,0.386],[8990.9,0.515],[8994.8,1.3],[8999.4,0.374],[9005.9,0.362],[9012.4,0.386],[9018.9,0.392],[9025.5,0.374],[9030.7,0.62],[9035.2,0.386],[9038.5,0.42],[9043.1,0.842],[9048.3,0.386],[9054.8,0.41],[9061.3,0.374],[9066.6,0.404],[9071.1,0.368],[9077.6,0.386],[9084.2,0.515],[9089.4,0.386],[9095.3,0.639],[9100.5,0.362],[9110.3,0.362],[9120.0,0.368],[9129.8,0.38],[9136.4,0.38],[9142.9,0.49],[9148.1,0.462],[9152.7,0.527],[9157.2,0.386],[9162.4,0.386],[9172.2,0.386],[9182.0,0.374],[9191.8,0.386],[9201.6,0.398],[9206.1,0.48],[9211.4,0.415],[9217.9,0.515],[9222.5,0.433],[9227.7,0.392],[9234.2,0.41],[9240.7,0.45],[9245.3,0.398],[9250.5,0.433],[9257.0,0.404],[9264.9,0.439],[9270.1,0.433],[9274.6,0.474],[9279.9,0.533],[9285.1,0.55],[9289.6,0.498],[9294.2,0.52],[9300.0,0.515]
];

const FONT = '"DejaVu Sans", sans-serif';

export default function App() {
  const W = 3000, H = 900;
  const m = { l: 375, r: 2700, t: 108, b: 801 };
  const x = d3.scaleLinear().domain(X_DOMAIN).range([m.l, m.r]);
  const y = d3.scaleLinear().domain(Y_DOMAIN).range([m.b, m.t]);
  const line = d3.line<[number, number]>().x(d => x(d[0])).y(d => y(d[1]));
  const fmtY = (v: number) => v.toFixed(2).replace('-', '\u2212');
  const cx = (m.l + m.r) / 2;
  const cy = (m.t + m.b) / 2;
  const supDy = 20;

  return (
    <svg width={W} height={H} style={{ position: 'absolute', left: 0, top: 0, background: '#fff' }} fontFamily={FONT}>
      <rect x={0} y={0} width={W} height={H} fill="#fff" />
      <defs>
        <clipPath id="plotclip">
          <rect x={m.l} y={m.t} width={m.r - m.l} height={m.b - m.t} />
        </clipPath>
      </defs>
      <g clipPath="url(#plotclip)">
        <path d={line(NOISE) || ''} fill="none" stroke="#008000" strokeWidth={1.4} strokeLinejoin="round" />
        <path d={line(MODEL) || ''} fill="none" stroke="#0000ff" strokeWidth={5} />
        <path d={line(FLUX) || ''} fill="none" stroke="#000" strokeWidth={4} strokeLinejoin="round" />
      </g>
      <rect x={m.l} y={m.t} width={m.r - m.l} height={m.b - m.t} fill="none" stroke="#000" strokeWidth={3} />
      {X_TICKS.map(t => (
        <g key={'x' + t}>
          <line x1={x(t)} x2={x(t)} y1={m.b} y2={m.b + 14} stroke="#000" strokeWidth={2.7} />
          <text x={x(t)} y={852} fontSize={27.5} textAnchor="middle" fill="#000">{t}</text>
        </g>
      ))}
      {Y_TICKS.map(t => (
        <g key={'y' + t}>
          <line x1={m.l - 14} x2={m.l} y1={y(t)} y2={y(t)} stroke="#000" strokeWidth={2.7} />
          <text x={342} y={y(t) + 12.7} fontSize={35} textAnchor="end" fill="#000">{fmtY(t)}</text>
        </g>
      ))}
      <text x={cx} y={83} fontSize={48} textAnchor="middle" fill="#000">{TITLE}</text>
      <text x={cx} y={887} fontSize={32} textAnchor="middle" fill="#000">{X_LABEL}</text>
      <text transform={`translate(203,${cy}) rotate(-90)`} fontSize={48} textAnchor="middle" fill="#000">
        <tspan>10</tspan>
        <tspan fontSize={34} dy={-supDy}>{'\u221218'}</tspan>
        <tspan dy={supDy}>{' erg s'}</tspan>
        <tspan fontSize={34} dy={-supDy}>{'\u22121'}</tspan>
        <tspan dy={supDy}>cm</tspan>
        <tspan fontSize={34} dy={-supDy}>{'\u22122'}</tspan>
        <tspan dy={supDy}>{'\u00c5'}</tspan>
        <tspan fontSize={34} dy={-supDy}>{'\u22121'}</tspan>
      </text>
    </svg>
  );
}
